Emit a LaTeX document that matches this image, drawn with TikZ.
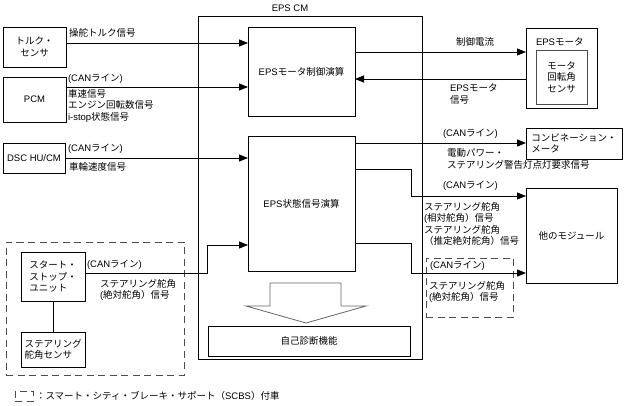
\documentclass[tikz,border=0pt]{standalone}
\usepackage{fontspec}
\setmainfont{Liberation Sans}
\newfontfamily\jfont{Noto Sans CJK JP}
\newfontfamily\lfont{Liberation Sans}
\XeTeXinterchartokenstate=1
\newXeTeXintercharclass\JCls
\newcount\jc
\def\setJrange#1#2{\jc=#1\relax\loop\XeTeXcharclass\jc=\JCls\relax\ifnum\jc<#2\relax\advance\jc by 1\relax\repeat}
\setJrange{"3000}{"30FF}
\setJrange{"4E00}{"9FFF}
\setJrange{"FF00}{"FFEF}
\XeTeXinterchartoks 0 \JCls = {\jfont}
\XeTeXinterchartoks 4095 \JCls = {\jfont}
\XeTeXinterchartoks \JCls 0 = {\lfont}
\XeTeXinterchartoks 4095 0 = {\lfont}
\usetikzlibrary{arrows.meta}
\begin{document}
\begin{tikzpicture}[x=1pt,y=-1pt,
  every node/.style={font=\fontsize{9.5}{11.5}\selectfont, inner sep=0pt, outer sep=0pt},
  box/.style={draw, line width=0.8pt, anchor=north west, align=center},
  arr/.style={line width=0.8pt, -{Triangle[length=9pt,width=7pt]}},
  ln/.style={line width=0.8pt},
  dsh/.style={draw, line width=0.8pt, dash pattern=on 7pt off 4.5pt, black!70},
  lbl/.style={anchor=west, align=left}]
\useasboundingbox (0,0) rectangle (634,406);

% left boxes
\node[box,minimum width=63pt,minimum height=40pt] (ts) at (3,27) {トルク・\\センサ};
\node[box,minimum width=63pt,minimum height=45pt] (pcm) at (3,77) {PCM};
\node[box,minimum width=62pt,minimum height=30pt] (dsc) at (3,143) {DSC HU/CM};
\node[dsh,anchor=north west,minimum width=178pt,minimum height=133pt] (scbs) at (6,242) {};
\node[box,minimum width=64pt,minimum height=49pt,align=left] (ssu) at (21,252) {スタート・\\ストップ・\\ユニット};
\node[box,minimum width=64pt,minimum height=35pt,align=left] (sas) at (21,332) {ステアリング\\舵角センサ};

% EPS CM
\node[box,minimum width=224pt,minimum height=343pt] (cm) at (198,16) {};
\node (cml) at (290,8) {EPS CM};
\node[box,minimum width=107pt,minimum height=89pt] (mc) at (248,27) {EPSモータ制御演算};
\node[box,minimum width=107pt,minimum height=135pt] (sc) at (248,136) {EPS状態信号演算};
\node[box,minimum width=202pt,minimum height=30pt] (sd) at (208,326) {自己診断機能};
\draw[line width=0.8pt,black!60] (270,283) -- (341,283) -- (341,306) -- (366,306) -- (306,323) -- (246,306) -- (270,306) -- cycle;

% right boxes
\node[box,minimum width=71pt,minimum height=80pt] (mot) at (526,28) {};
\node[anchor=west] (motl) at (536,42) {EPSモータ};
\node[box,minimum width=51pt,minimum height=54pt,draw=black!70] (rs) at (536,50) {モータ\\回転角\\センサ};
\node[box,minimum width=96pt,minimum height=31pt,align=left] (com) at (526,128) {コンビネーション・\\メータ};
\node[box,minimum width=91pt,minimum height=95pt] (om) at (526,188) {他のモジュール};
\node[dsh,anchor=north west,minimum width=87pt,minimum height=59pt] (sdb) at (426,258) {};

% connectors
\coordinate (t1) at ([yshift=-16pt]ts.north east);
\draw[arr] (t1) -- (t1 -| mc.west);
\coordinate (p1) at ([yshift=-10pt]pcm.north east);
\draw[arr] (p1) -- (p1 -| mc.west);
\draw[arr] (dsc.east) -- (dsc.east -| sc.west);
\coordinate (s1) at ([yshift=3.5pt]ssu.east);
\coordinate (s2) at ([yshift=-109pt]sc.north west);
\draw[arr] (s1) -- ++(122,0) |- (s2);
\draw[ln] (ssu.south) -- (sas.north);
\coordinate (c1) at ([yshift=-25pt]mc.north east);
\draw[arr] (c1) -- (c1 -| mot.west);
\coordinate (m1) at ([yshift=-51pt]mot.north west);
\draw[arr] (m1) -- (m1 -| mc.east);
\coordinate (k1) at ([yshift=-7pt]sc.north east);
\draw[arr] (k1) -- (k1 -| com.west);
\coordinate (o1) at ([yshift=-33pt]sc.north east);
\coordinate (o2) at ([yshift=-8pt]om.north west);
\draw[arr] (o1) -- ++(56,0) |- (o2);
\coordinate (o3) at ([yshift=-107pt]sc.north east);
\coordinate (o4) at ([yshift=-85pt]om.north west);
\draw[arr] (o3) -- ++(56,0) |- (o4);

% labels
\node[lbl] at (69,33) {操舵トルク信号};
\node[lbl] at (68,79) {(CANライン)};
\node[lbl] at (68,106) {車速信号\\エンジン回転数信号\\i-stop状態信号};
\node[lbl] at (68,149) {(CANライン)};
\node[lbl] at (69,167) {車輪速度信号};
\node[lbl] at (87,265) {(CANライン)};
\node[lbl] at (100,290) {ステアリング舵角\\(絶対舵角）信号};
\node at (475,42) {制御電流};
\node[lbl] at (450,94) {EPSモータ\\信号};
\node[lbl] at (443,134) {(CANライン)};
\node[lbl] at (447,159) {電動パワー・\\ステアリング警告灯点灯要求信号};
\node[lbl] at (443,186) {(CANライン)};
\node[lbl] at (424,224) {ステアリング舵角\\(相対舵角）信号\\ステアリング舵角\\（推定絶対舵角）信号};
\node[lbl] at (430,266) {(CANライン)};
\node[lbl] at (429,292) {ステアリング舵角\\(絶対舵角）信号};

% legend
\node[dsh,anchor=north west,minimum width=18pt,minimum height=10pt] (leg) at (15,391) {};
\node[anchor=west] (legt) at ([xshift=3pt]leg.east) {：スマート・シティ・ブレーキ・サポート（SCBS）付車};
\end{tikzpicture}
\end{document}
